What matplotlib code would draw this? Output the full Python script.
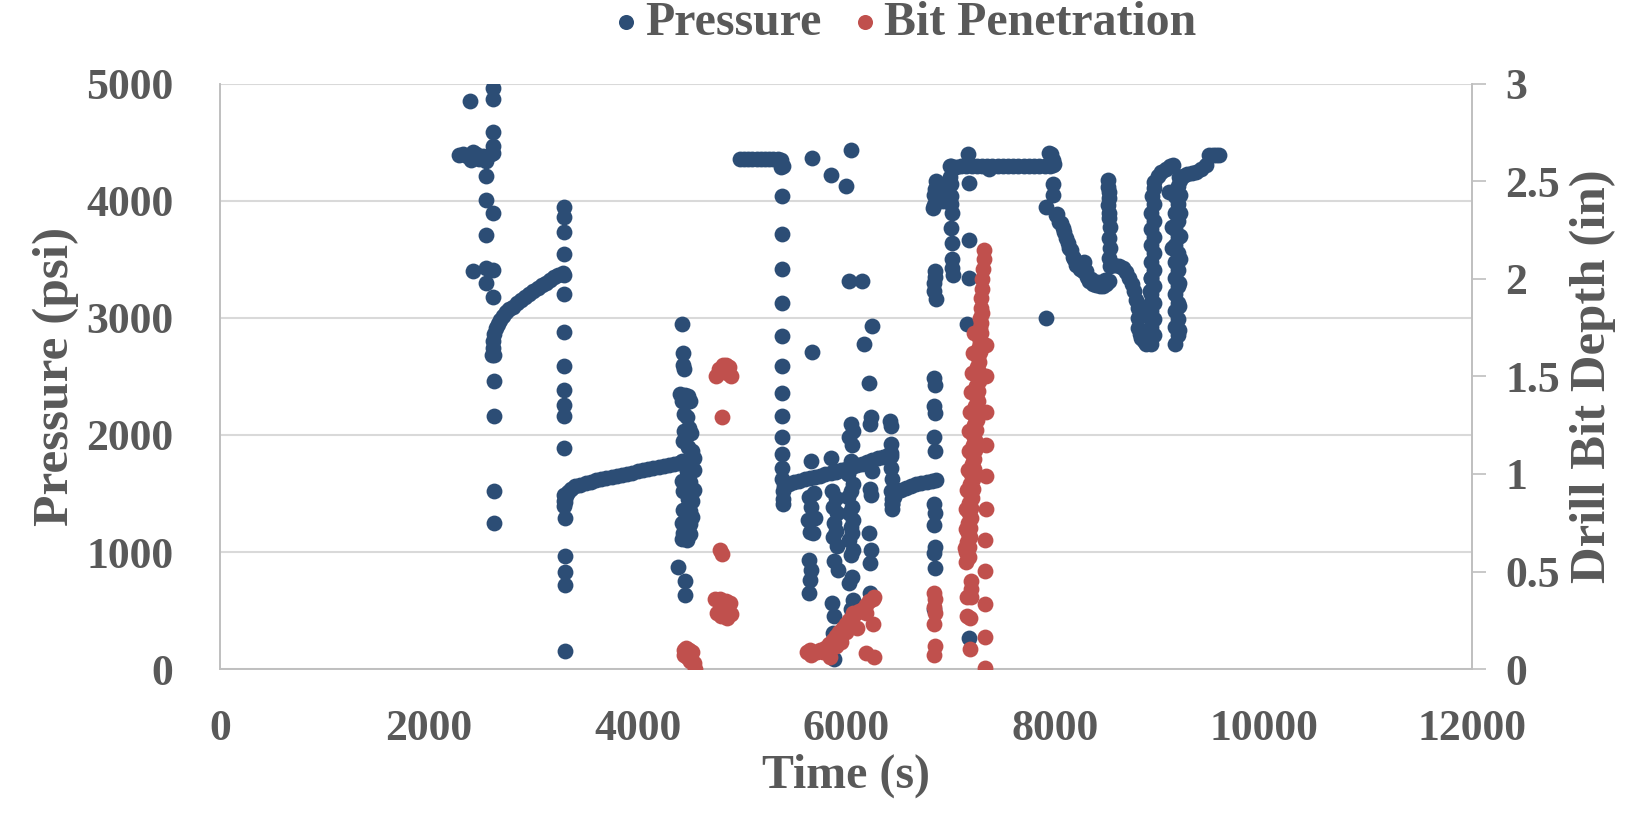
import numpy as np
import matplotlib
matplotlib.use("Agg")
import matplotlib.pyplot as plt

# --- Pressure (psi) vs time (s), grouped by cluster ---
burst_t = [2290, 2330, 2360, 2400, 2420, 2450, 2480, 2520, 2550, 2590, 2610, 2390, 2610, 2610,
           2610, 2610, 2550, 2550, 2610, 2550, 2420, 2550, 2610, 2550, 2610, 2620, 2620, 2620,
           2620, 2620]
burst_p = [4390, 4400, 4380, 4350, 4420, 4400, 4360, 4380, 4340, 4400, 4410, 4850, 4960, 4870,
           4590, 4470, 4215, 4010, 3900, 3710, 3400, 3430, 3410, 3300, 3180, 2680, 2460, 2160,
           1520, 1250]

rise1_t = [2605, 2610, 2615, 2625, 2640, 2660, 2680, 2710, 2740, 2770, 2800, 2840, 2880, 2920,
           2960, 3000, 3040, 3080, 3120, 3160, 3200, 3240, 3280]
rise1_p = [2680, 2740, 2800, 2860, 2910, 2950, 2980, 3020, 3050, 3075, 3097, 3125, 3150, 3175,
           3200, 3232, 3255, 3280, 3300, 3325, 3345, 3365, 3383]

col1_t = [3290, 3290, 3292, 3292, 3290, 3290, 3292, 3292, 3295, 3295, 3295, 3295, 3295, 3290,
          3295, 3300, 3300, 3300, 3300, 3300]
col1_p = [3950, 3860, 3730, 3545, 3370, 3205, 2880, 2585, 2385, 2260, 2160, 1890, 1490, 1440,
          1390, 1290, 965, 830, 715, 155]

rise2_t = [3300, 3310, 3330, 3360, 3400, 3450, 3500, 3550, 3600, 3650, 3700, 3750, 3800, 3850,
           3900, 3950, 4000, 4050, 4100, 4150, 4200, 4250, 4300, 4350, 4400]
rise2_p = [1430, 1480, 1515, 1540, 1560, 1575, 1588, 1600, 1612, 1623, 1633, 1643, 1652, 1661,
           1670, 1679, 1688, 1697, 1706, 1715, 1724, 1733, 1742, 1752, 1762]

col2_t = [4420, 4430, 4430, 4440, 4410, 4450, 4480, 4500, 4420, 4440, 4470, 4490, 4440, 4510,
          4430, 4480, 4520, 4540, 4420, 4500, 4540, 4470, 4420, 4500, 4540, 4430, 4480, 4520,
          4430, 4500, 4520, 4420, 4500, 4430, 4500, 4420, 4470, 4390, 4450, 4450]
col2_p = [2950, 2700, 2600, 2560, 2350, 2340, 2330, 2290, 2290, 2180, 2150, 2060, 2030, 2020,
          1950, 1900, 1860, 1800, 1780, 1770, 1700, 1690, 1610, 1600, 1530, 1520, 1450, 1440,
          1360, 1350, 1300, 1250, 1240, 1160, 1150, 1110, 1100, 870, 750, 630]

flat1_t = [4980, 5020, 5060, 5100, 5140, 5180, 5220, 5260, 5300, 5340, 5370, 5390]
flat1_p = [4355, 4356, 4355, 4356, 4355, 4355, 4356, 4357, 4358, 4360, 4350, 4300]

col3_t = [5375, 5380, 5380, 5380, 5380, 5380, 5382, 5382, 5382, 5385, 5385, 5385, 5385, 5388,
          5388, 5390]
col3_p = [4290, 4040, 3720, 3420, 3125, 2845, 2585, 2360, 2160, 1985, 1840, 1720, 1620, 1520,
          1450, 1410]

rise3_t = [5400, 5450, 5500, 5550, 5600, 5650, 5700, 5750, 5800, 5850, 5900, 5950, 6000, 6050,
           6100, 6150, 6200, 6250, 6300, 6350, 6400, 6430]
rise3_p = [1560, 1580, 1595, 1608, 1620, 1632, 1643, 1653, 1663, 1674, 1685, 1697, 1710, 1725,
           1740, 1755, 1770, 1785, 1800, 1815, 1830, 1845]

col4_t = [6420, 6425, 6430, 6425, 6430, 6435, 6430, 6440, 6435, 6440]
col4_p = [2120, 2075, 1920, 1820, 1720, 1625, 1525, 1450, 1410, 1370]

rise4_t = [6440, 6460, 6480, 6520, 6570, 6620, 6670, 6720, 6770, 6820, 6860]
rise4_p = [1410, 1470, 1510, 1530, 1550, 1565, 1578, 1590, 1600, 1610, 1615]

scatter_t = [5660, 5640, 5660, 5630, 5650, 5640, 5660, 5650, 5640, 5690, 5700, 5680,
             5850, 5880, 5860, 5900, 5870, 5910, 5880, 5900, 5870, 5910, 5880, 5920, 5860, 5880,
             5870, 5890, 5880,
             6040, 6060, 6030, 6050, 6040, 6020, 6060, 6040, 6020, 6050, 6030, 6060, 6040, 6050,
             6030, 6060, 6040, 6050, 6030, 6060, 6040,
             6240, 6230, 6250, 6230, 6240, 6220, 6240, 6230, 6230,
             5668, 5854, 5997, 6042, 6029, 6150, 6243, 6166, 5668, 6214]
scatter_p = [1780, 1470, 1385, 1270, 1175, 930, 850, 765, 650, 1500, 1290, 1160,
             1800, 1690, 1525, 1460, 1385, 1330, 1245, 1180, 1130, 1050, 920, 850, 565, 450,
             310, 210, 85,
             2090, 2030, 1980, 1910, 1780, 1670, 1580, 1525, 1470, 1385, 1330, 1270, 1215, 1160,
             1100, 1020, 975, 790, 735, 590, 510,
             2150, 2090, 1690, 1540, 1485, 1160, 1020, 905, 650,
             4366, 4221, 4128, 4433, 3312, 3312, 2933, 2779, 2705, 2443]

col5_t = [6860, 6850, 6840, 6860, 6840, 6830, 6850, 6840, 6860, 6840, 6850, 6840, 6850, 6840,
          6850, 6840, 6850, 6840, 6850, 6840, 6850, 6840, 6850, 6840, 6880, 6910, 6930]
col5_p = [4170, 4100, 4050, 4030, 3960, 3940, 3350, 3230, 3160, 2490, 2430, 2250, 2190, 1980,
          1860, 1410, 1330, 1230, 1045, 990, 860, 510, 3400, 3300, 4120, 4060, 4000]

step_t = [6995, 7000, 7005, 7000, 7010, 7005, 7010, 7015, 7010, 7020]
step_p = [4200, 4140, 4040, 3970, 3900, 3770, 3640, 3500, 3430, 3370]

flat2_t = [6990, 7000, 7050, 7100, 7150, 7200, 7250, 7300, 7350, 7400, 7450, 7500, 7550, 7600,
           7650, 7700, 7750, 7800, 7850, 7900, 7950, 7980,
           7162, 7172, 7172, 7172, 7160, 7172, 7370, 7946, 7914, 7980, 7960]
flat2_p = [4300, 4295, 4293, 4295, 4294, 4296, 4295, 4294, 4296, 4295, 4294, 4296, 4295, 4295,
           4294, 4296, 4295, 4294, 4296, 4295, 4300, 4310,
           4399, 4154, 3668, 3339, 2946, 262, 4272, 4406, 2997, 4350, 4400]

fall_t = [7994, 7978, 7985, 7914, 8010, 8040, 8074, 8105, 8138, 8170, 8202, 8240, 8265, 8280,
          8300, 8329, 8360, 8393, 8430, 8457, 8490, 8521,
          8505, 8510, 8515, 8520, 8510, 8520, 8515, 8525, 8520, 8530, 8520, 8530,
          8569, 8610, 8649, 8680, 8713, 8740, 8761, 8780, 8793, 8800, 8800, 8815, 8825, 8850,
          8873,
          8020, 8055, 8090, 8120, 8155, 8185, 8220, 8250, 8310, 8345, 8410, 8445, 8475]
fall_p = [4317, 4147, 4048, 3949, 3878, 3820, 3765, 3680, 3595, 3520, 3453, 3420, 3397, 3480,
          3400, 3312, 3290, 3283, 3275, 3269, 3290, 3312,
          4176, 4120, 4076, 4020, 3963, 3900, 3850, 3780, 3680, 3600, 3510, 3440,
          3453, 3440, 3425, 3390, 3340, 3290, 3227, 3150, 3085, 3000, 2915, 2860, 2830, 2800,
          2773,
          3890, 3810, 3730, 3640, 3580, 3500, 3470, 3440, 3350, 3330, 3310, 3300, 3320]

vee1_t = [8925, 8945, 8925, 8945, 8925, 8945, 8925, 8945, 8925, 8945, 8925, 8945, 8925, 8945,
          8925, 8945, 8925, 8945, 8930, 8945, 8953, 8985, 9017, 9060, 9100, 9128,
          8905, 8910, 8910, 8915, 8915, 8920]
vee1_p = [2780, 2850, 2920, 2990, 3060, 3130, 3200, 3270, 3340, 3410, 3480, 3550, 3620, 3690,
          3760, 3830, 3900, 3970, 4040, 4110, 4161, 4210, 4246, 4275, 4295, 4303,
          2790, 2900, 3010, 3120, 3230, 3340]

vee2_t = [9150, 9175, 9150, 9175, 9150, 9175, 9150, 9175, 9150, 9175, 9150, 9175, 9150, 9175,
          9150, 9175, 9150, 9175, 9150, 9175, 9096, 9120, 9120,
          9190, 9190, 9190, 9195, 9195, 9195, 9195, 9200]
vee2_p = [2780, 2850, 2920, 2990, 3060, 3130, 3200, 3270, 3340, 3410, 3480, 3550, 3620, 3690,
          3760, 3830, 3900, 3970, 4040, 4130, 4076, 3779, 3595,
          2900, 3100, 3300, 3500, 3700, 3900, 4050, 4180]

tail_t = [9192, 9230, 9270, 9310, 9352, 9400, 9448, 9480, 9510, 9540, 9576]
tail_p = [4204, 4215, 4225, 4235, 4246, 4270, 4303, 4388, 4390, 4392, 4388]

# --- Bit penetration (in) vs time (s) ---
bit_scatter_t = [4440, 4460, 4490, 4520, 4470, 4500, 4540, 4550, 4440,
                 4751, 4780, 4815, 4850, 4879, 4895, 4860, 4808, 4790, 4810, 4740, 4790, 4850,
                 4880, 4760, 4800, 4860, 4890, 4830,
                 5620, 5650, 5680, 5720, 5745, 5660, 5773, 5800, 5838, 5870, 5902, 5933, 5966,
                 6000, 6029, 6061, 6093, 6125, 6157, 6189, 6221, 6253, 6269, 5900, 5950, 6000,
                 6061, 6100, 6189, 6253, 6189, 6269, 5840, 5933,
                 6843, 6850, 6843, 6850, 6843, 6850, 6843,
                 7192, 7192, 7192, 7190, 7190, 7156, 7160,
                 7339, 7339, 7339, 7339, 7329, 7329, 7329, 7329, 7329, 7339, 7339]
bit_scatter_d = [0.10, 0.11, 0.10, 0.09, 0.06, 0.04, 0.03, 0.00, 0.07,
                 1.50, 1.54, 1.56, 1.56, 1.55, 1.50, 1.52, 1.29, 0.61, 0.59, 0.36, 0.36, 0.35,
                 0.34, 0.29, 0.27, 0.26, 0.28, 0.31,
                 0.09, 0.10, 0.08, 0.09, 0.10, 0.07, 0.09, 0.11, 0.13, 0.15, 0.17, 0.19, 0.21,
                 0.23, 0.25, 0.27, 0.29, 0.30, 0.31, 0.33, 0.35, 0.36, 0.37, 0.12, 0.14, 0.19,
                 0.29, 0.21, 0.29, 0.23, 0.085, 0.06, 0.06, 0.14,
                 0.39, 0.36, 0.32, 0.29, 0.23, 0.12, 0.07,
                 0.45, 0.41, 0.37, 0.26, 0.105, 0.27, 0.37,
                 1.32, 1.15, 0.99, 0.82, 0.66, 0.505, 0.336, 0.166, 0.008, 1.66, 1.50]

bit_ramp_t = [7145, 7151, 7156, 7162, 7167, 7173, 7178, 7184, 7189, 7195, 7200, 7206, 7211,
              7217, 7222, 7228, 7234, 7239, 7245, 7250, 7256, 7261, 7267, 7272, 7278, 7283,
              7289, 7294, 7300, 7305, 7311, 7316, 7322]
bit_ramp_d = [0.55, 0.60, 0.65, 0.70, 0.75, 0.80, 0.85, 0.90, 0.95, 1.00, 1.05, 1.10, 1.15,
              1.20, 1.25, 1.30, 1.35, 1.40, 1.45, 1.50, 1.55, 1.60, 1.65, 1.70, 1.75, 1.80,
              1.85, 1.90, 1.95, 2.00, 2.05, 2.10, 2.15]
bit_ramp2_t = [7172, 7178, 7183, 7188, 7194, 7199, 7205, 7210, 7216, 7221, 7226, 7232, 7237,
               7243, 7248, 7254, 7258, 7262, 7267, 7271, 7276, 7280, 7284, 7289, 7293, 7298]
bit_ramp2_d = [0.575, 0.625, 0.675, 0.725, 0.775, 0.825, 0.875, 0.925, 0.975, 1.025, 1.075,
               1.125, 1.175, 1.225, 1.275, 1.325, 1.375, 1.425, 1.475, 1.525, 1.575, 1.625,
               1.675, 1.725, 1.775, 1.825]
bit_ramp3_t = [7140, 7145, 7150, 7158, 7165, 7172, 7180, 7188, 7196, 7204, 7212, 7220]
bit_ramp3_d = [0.62, 0.72, 0.82, 0.92, 1.02, 1.12, 1.22, 1.32, 1.42, 1.52, 1.62, 1.72]

press_t = np.concatenate([burst_t, rise1_t, col1_t, rise2_t, col2_t, flat1_t, col3_t, rise3_t,
                          col4_t, rise4_t, scatter_t, col5_t, step_t, flat2_t, fall_t, vee1_t,
                          vee2_t, tail_t])
press_p = np.concatenate([burst_p, rise1_p, col1_p, rise2_p, col2_p, flat1_p, col3_p, rise3_p,
                          col4_p, rise4_p, scatter_p, col5_p, step_p, flat2_p, fall_p, vee1_p,
                          vee2_p, tail_p])
bit_t = np.concatenate([bit_scatter_t, bit_ramp_t, bit_ramp2_t, bit_ramp3_t])
bit_d = np.concatenate([bit_scatter_d, bit_ramp_d, bit_ramp2_d, bit_ramp3_d])

blue = "#2C4D75"
red = "#C0504D"
grey_txt = "#595959"
grey_line = "#D9D9D9"
fnt = "Liberation Serif"

fig = plt.figure(figsize=(16.45, 8.13), dpi=100)
ax = fig.add_axes([0.134, 0.177, 0.761, 0.720])
ax2 = ax.twinx()

ax.scatter(press_t, press_p, s=130, color=blue, linewidths=0, label="Pressure", zorder=3)
ax2.scatter(bit_t, bit_d, s=130, color=red, linewidths=0, label="Bit Penetration", zorder=3)

ax.set_xlim(0, 12000)
ax.set_ylim(0, 5000)
ax2.set_ylim(0, 3)
ax.set_xticks(np.arange(0, 12001, 2000))
ax.set_yticks(np.arange(0, 5001, 1000))
ax2.set_yticks([0, 0.5, 1, 1.5, 2, 2.5, 3])
ax2.set_yticklabels(["0", "0.5", "1", "1.5", "2", "2.5", "3"])

ax.grid(axis="y", color=grey_line, linewidth=1.5)
ax.set_axisbelow(True)

for a in (ax, ax2):
    a.spines["top"].set_visible(False)
    for side in ("left", "bottom", "right"):
        a.spines[side].set_color("#BFBFBF")
        a.spines[side].set_linewidth(1.2)

ax.tick_params(axis="both", length=0, labelsize=31.5, labelcolor=grey_txt)
ax.tick_params(axis="y", pad=34)
ax.tick_params(axis="x", pad=29)
ax2.tick_params(axis="y", length=10, width=1.2, color="#BFBFBF", labelsize=31.5,
                labelcolor=grey_txt, pad=14)
for lbl in ax.get_xticklabels() + ax.get_yticklabels() + ax2.get_yticklabels():
    lbl.set_fontfamily(fnt)
    lbl.set_fontweight("bold")

ax.set_xlabel("Time (s)", fontsize=34.5, fontweight="bold", family=fnt, color=grey_txt,
              labelpad=3)
ax.set_ylabel("Pressure (psi)", fontsize=37, fontweight="bold", family=fnt, color=grey_txt,
              labelpad=5)
ax2.set_ylabel("Drill Bit Depth (in)", fontsize=36.5, fontweight="bold", family=fnt,
               color=grey_txt, labelpad=7)

h1, l1 = ax.get_legend_handles_labels()
h2, l2 = ax2.get_legend_handles_labels()
fig.legend(h1 + h2, l1 + l2, loc="center", bbox_to_anchor=(0.551, 0.972), ncol=2,
           frameon=False, markerscale=0.95, handlelength=0.4, handletextpad=0.2,
           columnspacing=0.7, prop={"family": fnt, "weight": "bold", "size": 34.5},
           labelcolor=grey_txt)

fig.savefig("out.png", dpi=100)
